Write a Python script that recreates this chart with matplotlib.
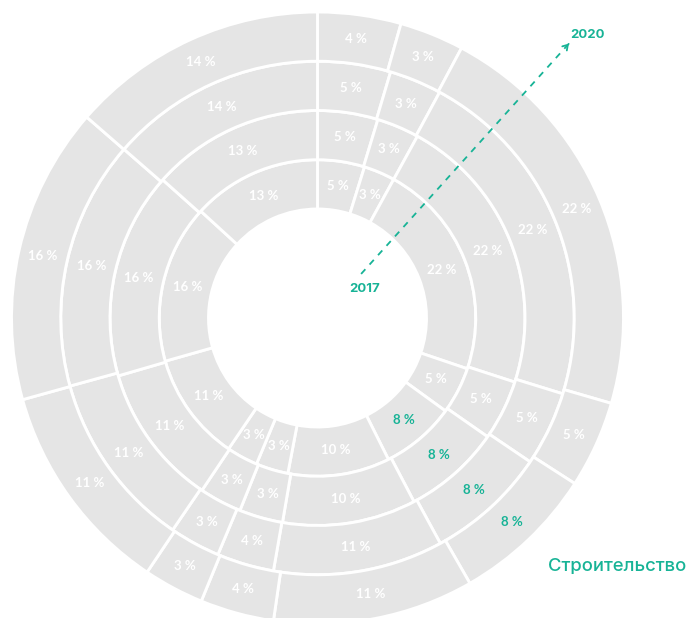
import matplotlib.pyplot as plt
import numpy as np

# shares per year (inner ring = 2017, outer ring = 2020), clockwise from 12 o'clock
years = ["2017", "2018", "2019", "2020"]
share_2017 = [4.8, 3.2, 22.2, 4.8, 7.6, 10.4, 3.3, 3.2, 11.1, 16.2, 13.2]
share_2018 = [4.7, 3.3, 22.0, 4.7, 7.6, 10.4, 3.4, 3.3, 11.1, 16.1, 13.4]
share_2019 = [4.6, 3.3, 21.9, 4.7, 7.6, 10.7, 3.6, 3.2, 11.2, 15.7, 13.6]
share_2020 = [4.4, 3.4, 21.7, 4.6, 7.6, 10.6, 3.9, 3.2, 11.3, 15.7, 13.6]
rings = [share_2017, share_2018, share_2019, share_2020]
highlight = 4          # index of the "Строительство" sector
highlight_name = "Строительство"

gray = "#e5e5e5"
teal = "#17b396"

fig = plt.figure(figsize=(6.91, 6.18), dpi=100)
ax = fig.add_axes([0, 0, 1, 1])

hole = 109
width = 49.25

for i, vals in enumerate(rings):
    r_out = hole + width * (i + 1)
    wedges, _ = ax.pie(vals, radius=r_out, startangle=90, counterclock=False,
                       colors=[gray] * len(vals),
                       wedgeprops=dict(width=width, edgecolor="white", linewidth=2.1),
                       frame=True)
    r_mid = r_out - width / 2
    for j, (w, v) in enumerate(zip(wedges, vals)):
        ang = np.deg2rad((w.theta1 + w.theta2) / 2)
        ax.text(r_mid * np.cos(ang), r_mid * np.sin(ang), f"{round(v)} %",
                ha="center", va="center", fontsize=9.5, fontweight="bold",
                family="Lato", color=teal if j == highlight else "white")

# axes units == pixels, ring centre at (0, 0)
ax.set_xlim(-317.5, 373.5)
ax.set_ylim(-300, 318)
ax.set_aspect("equal")
ax.axis("off")

# year axis arrow: 2017 (inner) -> 2020 (outer)
a0, a1 = np.deg2rad(90 - 44.7), np.deg2rad(90 - 42.5)
r0, r1 = 62, 369
x0, y0 = r0 * np.cos(a0), r0 * np.sin(a0)
x1, y1 = r1 * np.cos(a1), r1 * np.sin(a1)
ax.plot([x0, x1], [y0, y1], color=teal, lw=1.3, linestyle=(0, (3.5, 3.5)))
d = np.array([x1 - x0, y1 - y0]) / np.hypot(x1 - x0, y1 - y0)
ax.annotate("", xy=(x1 + 6 * d[0], y1 + 6 * d[1]), xytext=(x1, y1),
            arrowprops=dict(arrowstyle="->,head_length=0.35,head_width=0.22",
                            color=teal, lw=1.3))
ax.text(x0 + 4, y0 - 15, years[0], color=teal, fontsize=9.5, fontweight="bold",
        family="Inter", ha="center", va="center")
ax.text(x1 + 21, y1 + 11, years[-1], color=teal, fontsize=9.5, fontweight="bold",
        family="Inter", ha="center", va="center")

ax.text(230.5, -249, highlight_name, color=teal, fontsize=13.3, fontweight="medium",
        family="Inter", ha="left", va="center")

fig.savefig("out.png", dpi=100)
